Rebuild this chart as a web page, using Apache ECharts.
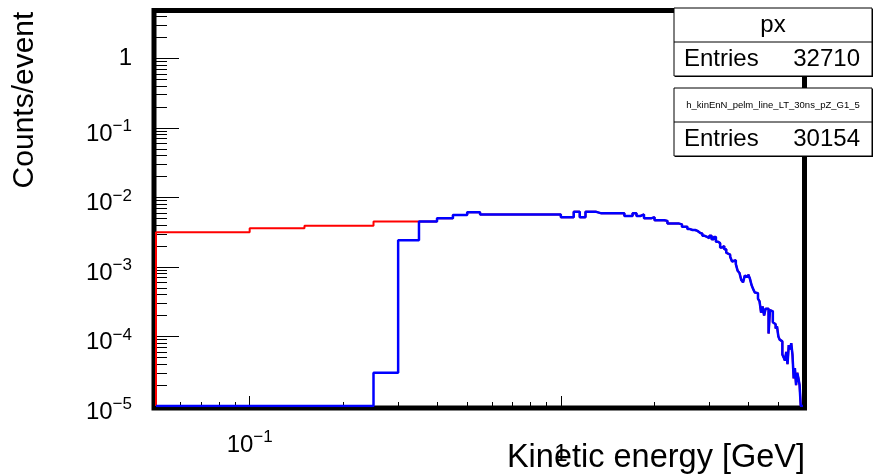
<!DOCTYPE html>
<html>
<head>
<meta charset="utf-8">
<script src="https://cdn.jsdelivr.net/npm/echarts@6/dist/echarts.min.js"></script>
<style>
  html, body { margin: 0; padding: 0; background: #fff; }
  #chart { width: 873px; height: 476px; }
</style>
</head>
<body>
<div id="chart"></div>
<script>
// Axis ranges (log-log)
const xRange = [0.05, 6];
const yRange = [1e-5, 4.8];

// Histogram binning: fixed 0.05 GeV bins starting at the left edge of the x range
const binStart = 0.05;
const binWidth = 0.05;

// "px": low-energy bins 0.05–0.35 GeV (above that it coincides with the second histogram)
const pxLowBins = [3.16e-3, 3.6e-3, 3.9e-3, 3.9e-3, 4.5e-3, 4.5e-3];

// Second histogram (Counts/event), bins 0.05 … 6.00 GeV
const pelmBins = [
  0, 0, 0, 0, 3.0e-5, 2.43e-3, 4.5e-3, 5.0e-3, 5.6e-3, 6.1e-3,
  5.7e-3, 5.7e-3, 5.7e-3, 5.7e-3, 5.7e-3, 5.7e-3, 5.7e-3, 5.7e-3, 5.7e-3, 5.2e-3,
  5.2e-3, 6.2e-3, 5.2e-3, 6.2e-3, 6.2e-3, 5.9e-3, 5.9e-3, 5.9e-3, 5.9e-3, 5.9e-3,
  5.9e-3, 5.4e-3, 5.4e-3, 5.9e-3, 5.4e-3, 5.7e-3, 5.0e-3, 5.0e-3, 5.2e-3, 4.7e-3,
  4.7e-3, 4.7e-3, 4.6e-3, 4.2e-3, 4.2e-3, 4.2e-3, 4.2e-3, 4.1e-3, 3.8e-3, 3.8e-3,
  3.5e-3, 3.4e-3, 3.4e-3, 3.3e-3, 3.1e-3, 3.0e-3, 2.8e-3, 2.7e-3, 2.6e-3, 2.8e-3,
  2.5e-3, 2.7e-3, 2.3e-3, 2.2e-3, 1.9e-3, 2.0e-3, 1.8e-3, 1.6e-3, 1.5e-3, 1.4e-3,
  1.2e-3, 1.25e-3, 1.1e-3, 8.8e-4, 8.2e-4, 6.5e-4, 6.0e-4, 7.5e-4, 7.2e-4, 7.8e-4,
  6.8e-4, 5.5e-4, 4.8e-4, 4.3e-4, 4.2e-4, 3.5e-4, 3.2e-4, 2.2e-4, 2.7e-4, 2.0e-4,
  2.5e-4, 2.5e-4, 1.1e-4, 2.4e-4, 2.3e-4, 1.6e-4, 1.5e-4, 1.3e-4, 1.4e-4, 1.0e-4,
  9.0e-5, 8.5e-5, 5.5e-5, 5.0e-5, 4.5e-5, 6.0e-5, 4.0e-5, 7.5e-5, 6.5e-5, 8.0e-5,
  5.5e-5, 2.5e-5, 3.5e-5, 2.0e-5, 3.0e-5, 2.5e-5, 2.0e-5, 0, 0
];

// Tick positions
const xMajorTicks = [0.1, 1];
const xMinorTicks = [0.06, 0.07, 0.08, 0.09, 0.2, 0.3, 0.4, 0.5, 0.6, 0.7, 0.8, 0.9, 2, 3, 4, 5, 6];
const yMajorTicks = [1e-5, 1e-4, 1e-3, 1e-2, 1e-1, 1];
const yMinorTicks = [
  2e-5, 3e-5, 4e-5, 5e-5, 6e-5, 7e-5, 8e-5, 9e-5,
  2e-4, 3e-4, 4e-4, 5e-4, 6e-4, 7e-4, 8e-4, 9e-4,
  2e-3, 3e-3, 4e-3, 5e-3, 6e-3, 7e-3, 8e-3, 9e-3,
  2e-2, 3e-2, 4e-2, 5e-2, 6e-2, 7e-2, 8e-2, 9e-2,
  0.2, 0.3, 0.4, 0.5, 0.6, 0.7, 0.8, 0.9,
  2, 3, 4
];

// Stats boxes
const statsBoxes = [
  { title: 'px', entries: 32710, titleSize: 24 },
  { title: 'h_kinEnN_pelm_line_LT_30ns_pZ_G1_5', entries: 30154, titleSize: 9.5 }
];

const xTitle = 'Kinetic energy [GeV]';
const yTitle = 'Counts/event';

// ---------------------------------------------------------------------------
const FONT = "'Liberation Sans', Arial, Helvetica, sans-serif";
const GRID = { left: 156, top: 11, width: 647, height: 395 };

// Turn bin contents into step-line vertices; empty bins sit on the axis floor.
function histPoints(bins) {
  const pts = [[binStart, yRange[0]]];
  bins.forEach((v, i) => {
    const edge = +(binStart + i * binWidth).toFixed(4);
    pts.push([edge, v > 0 ? v : yRange[0]]);
  });
  const last = bins[bins.length - 1];
  pts.push([+(binStart + bins.length * binWidth).toFixed(4), last > 0 ? last : yRange[0]]);
  return pts;
}

const pxBins = pxLowBins.concat(pelmBins.slice(pxLowBins.length));

function powLabel(value) {
  const e = Math.round(Math.log10(value));
  if (e === 0) return '{one|1}';
  return '{b|10}{s|' + (e < 0 ? '\u2212' : '') + Math.abs(e) + '}';
}

// "10" sits low, the exponent is raised
function richFor(onePad) {
  return {
    b: { fontFamily: FONT, fontSize: 24, color: '#000', padding: [12, 0, 0, 0], verticalAlign: 'bottom' },
    s: { fontFamily: FONT, fontSize: 17, color: '#000', padding: [8, 0, 0, 0], verticalAlign: 'top' },
    one: { fontFamily: FONT, fontSize: 24, color: '#000', padding: [onePad, 0, 0, 0], verticalAlign: 'top' }
  };
}

function logAxis(range, extra) {
  return Object.assign({
    type: 'log', logBase: 10, min: range[0], max: range[1],
    axisLine: { show: false }, splitLine: { show: false }, minorTick: { show: false },
    minorSplitLine: { show: false }
  }, extra);
}

const chart = echarts.init(document.getElementById('chart'), null, { renderer: 'canvas' });

const boxLeft = 674, boxRight = 872, rowH = 34;
const boxTops = [8, 88];
const statsGraphics = [];
statsBoxes.forEach((b, k) => {
  const top = boxTops[k];
  statsGraphics.push(
    { type: 'rect', z: 10, shape: { x: boxLeft + 1, y: top + 1, width: boxRight - boxLeft, height: 2 * rowH }, style: { fill: '#000' } },
    { type: 'rect', z: 11, shape: { x: boxLeft, y: top, width: boxRight - boxLeft, height: 2 * rowH }, style: { fill: '#fff', stroke: '#000', lineWidth: 1 } },
    { type: 'line', z: 12, shape: { x1: boxLeft, y1: top + rowH, x2: boxRight, y2: top + rowH }, style: { stroke: '#000', lineWidth: 1 } },
    { type: 'text', z: 12, x: (boxLeft + boxRight) / 2, y: top + rowH / 2, style: { text: b.title, font: b.titleSize + 'px ' + FONT, fill: '#000', align: 'center', verticalAlign: 'middle' } },
    { type: 'text', z: 12, x: boxLeft + 10, y: top + rowH * 1.5, style: { text: 'Entries', font: '24px ' + FONT, fill: '#000', align: 'left', verticalAlign: 'middle' } },
    { type: 'text', z: 12, x: boxRight - 12, y: top + rowH * 1.5, style: { text: String(b.entries), font: '24px ' + FONT, fill: '#000', align: 'right', verticalAlign: 'middle' } }
  );
});

chart.setOption({
  animation: false,
  backgroundColor: '#fff',
  grid: Object.assign({ show: false, containLabel: false, outerBoundsMode: 'none' }, GRID),
  xAxis: [
    logAxis(xRange, {
      position: 'bottom',
      axisTick: { show: true, inside: true, length: 10, customValues: xMajorTicks, lineStyle: { color: '#000', width: 1 } },
      axisLabel: { show: true, customValues: xMajorTicks, margin: 15, formatter: powLabel, rich: richFor(21) }
    }),
    logAxis(xRange, {
      position: 'bottom',
      axisTick: { show: true, inside: true, length: 4, customValues: xMinorTicks, lineStyle: { color: '#000', width: 1 } },
      axisLabel: { show: false }
    })
  ],
  yAxis: [
    logAxis(yRange, {
      position: 'left',
      axisTick: { show: true, inside: true, length: 23, customValues: yMajorTicks, lineStyle: { color: '#000', width: 1 } },
      axisLabel: { show: true, customValues: yMajorTicks, margin: 24, formatter: powLabel, rich: richFor(0), align: 'right' }
    }),
    logAxis(yRange, {
      position: 'left',
      axisTick: { show: true, inside: true, length: 11, customValues: yMinorTicks, lineStyle: { color: '#000', width: 1 } },
      axisLabel: { show: false }
    })
  ],
  graphic: [
    // frame around the plotting area
    { type: 'rect', z: 1, shape: { x: GRID.left - 2, y: GRID.top - 0.5, width: GRID.width + 3.5, height: GRID.height + 2.5 }, style: { fill: null, stroke: '#000', lineWidth: 5 } },
    { type: 'text', z: 5, x: 805, y: 458, style: { text: xTitle, font: '32.5px ' + FONT, fill: '#000', align: 'right', verticalAlign: 'middle' } },
    { type: 'text', z: 5, x: 25, y: 100, rotation: Math.PI / 2, style: { text: yTitle, font: '30px ' + FONT, fill: '#000', align: 'center', verticalAlign: 'middle' } }
  ].concat(statsGraphics),
  series: [
    {
      name: 'px', type: 'line', step: 'end', showSymbol: false, symbol: 'none', z: 3,
      xAxisIndex: 0, yAxisIndex: 0,
      lineStyle: { color: '#ff0000', width: 2 },
      data: histPoints(pxBins)
    },
    {
      name: 'pelm', type: 'line', step: 'end', showSymbol: false, symbol: 'none', z: 4,
      xAxisIndex: 0, yAxisIndex: 0,
      lineStyle: { color: '#0000ff', width: 2.5 },
      data: histPoints(pelmBins)
    }
  ]
});
</script>
</body>
</html>
